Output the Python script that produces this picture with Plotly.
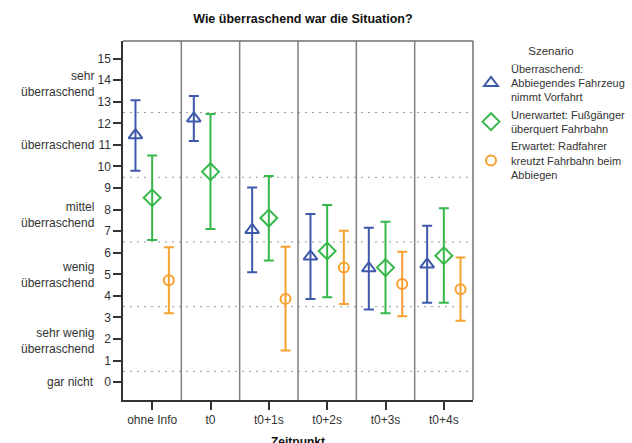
import plotly.graph_objects as go

# Zeitpunkte (x-Kategorien)
zeitpunkte = ["ohne Info", "t0", "t0+1s", "t0+2s", "t0+3s", "t0+4s"]

# Mittelwerte und 95%-Konfidenzgrenzen je Szenario
ueberraschend_mean = [11.45, 12.23, 7.06, 5.83, 5.28, 5.46]
ueberraschend_low = [9.80, 11.18, 5.09, 3.85, 3.37, 3.68]
ueberraschend_high = [13.07, 13.27, 9.03, 7.80, 7.16, 7.25]

unerwartet_mean = [8.55, 9.76, 7.61, 6.08, 5.31, 5.86]
unerwartet_low = [6.59, 7.10, 5.64, 3.94, 3.19, 3.68]
unerwartet_high = [10.51, 12.43, 9.56, 8.21, 7.44, 8.06]

erwartet_mean = [4.72, None, 3.86, 5.32, 4.55, 4.31]
erwartet_low = [3.19, None, 1.46, 3.62, 3.06, 2.84]
erwartet_high = [6.25, None, 6.28, 7.02, 6.04, 5.78]

# Verbale Skalenbeschriftung links neben den Zahlen
skalen_text = ["sehr<br>überraschend", "überraschend", "mittel<br>überraschend",
               "wenig<br>überraschend", "sehr wenig<br>überraschend", "gar nicht"]
skalen_pos = [13.84, 11.0, 7.77, 4.97, 1.9, 0.0]

# Grenzen zwischen den Skalenstufen
stufen_grenzen = [12.5, 9.5, 6.5, 3.5, 0.5]

FONT = "Liberation Sans, Arial, sans-serif"
TXT = "#333333"

series = [
    ("Überraschend:<br>Abbiegendes Fahrzeug<br>nimmt Vorfahrt",
     ueberraschend_mean, ueberraschend_low, ueberraschend_high,
     "#3E58AC", "triangle-up-open", 12, -0.286),
    ("Unerwartet: Fußgänger<br>überquert Fahrbahn",
     unerwartet_mean, unerwartet_low, unerwartet_high,
     "#35B849", "diamond-open", 13, 0.0),
    ("Erwartet: Radfahrer<br>kreutzt Fahrbahn beim<br>Abbiegen",
     erwartet_mean, erwartet_low, erwartet_high,
     "#F7A130", "circle-open", 10, 0.286),
]

fig = go.Figure()

for name, mean, low, high, color, symbol, size, offset in series:
    xs, ys, plus, minus = [], [], [], []
    for i, (m, lo, hi) in enumerate(zip(mean, low, high)):
        if m is None:
            continue
        xs.append(i + offset)
        ys.append(m)
        plus.append(hi - m)
        minus.append(m - lo)
    fig.add_trace(go.Scatter(
        x=xs, y=ys, mode="markers", name=name,
        marker=dict(symbol=symbol, size=size, color=color,
                    line=dict(color=color, width=2)),
        error_y=dict(type="data", symmetric=False, array=plus, arrayminus=minus,
                     color=color, thickness=2, width=5),
    ))

shapes = []
# gepunktete Linien zwischen den Skalenstufen
for g in stufen_grenzen:
    shapes.append(dict(type="line", xref="paper", yref="y", x0=0, x1=1, y0=g, y1=g,
                       line=dict(color="#9a9a9a", width=1, dash="2px,5px"), layer="below"))
# senkrechte Trennlinien zwischen den Zeitpunkten
for k in range(len(zeitpunkte) - 1):
    shapes.append(dict(type="line", xref="x", yref="paper", x0=k + 0.5, x1=k + 0.5, y0=0, y1=1,
                       line=dict(color="#808080", width=1.5), layer="below"))
# Rahmen oben und rechts
shapes.append(dict(type="line", xref="paper", yref="paper", x0=0, x1=1, y0=1, y1=1,
                   line=dict(color="#707070", width=1.5)))
shapes.append(dict(type="line", xref="paper", yref="paper", x0=1, x1=1, y0=0, y1=1,
                   line=dict(color="#707070", width=1.5)))

annotations = []
for t, p in zip(skalen_text, skalen_pos):
    annotations.append(dict(text=t, x=-0.078, xref="paper", y=p, yref="y",
                            xanchor="right", yanchor="middle", align="right",
                            showarrow=False, font=dict(family=FONT, size=12, color=TXT)))
annotations.append(dict(text="<b>Zeitpunkt</b>", x=0.5, xref="paper", y=-0.093, yref="paper",
                        xanchor="center", yanchor="top", showarrow=False,
                        font=dict(family=FONT, size=12, color="#111111")))

fig.update_layout(
    width=632, height=443,
    margin=dict(l=123, r=159, t=41, b=43, autoexpand=False),
    paper_bgcolor="white", plot_bgcolor="white",
    font=dict(family=FONT, size=12, color=TXT),
    title=dict(text="<b>Wie überraschend war die Situation?</b>", x=0.514, xref="paper",
               xanchor="center", y=1 - 19 / 443, yanchor="middle", yref="container",
               font=dict(family=FONT, size=12.5, color="#111111")),
    xaxis=dict(range=[-0.5, 5.5], tickvals=list(range(len(zeitpunkte))), ticktext=zeitpunkte,
               showgrid=False, zeroline=False, showline=True, linecolor="#333333", linewidth=1.5,
               ticks="outside", ticklen=8, tickcolor="#333333", tickwidth=1.5,
               tickfont=dict(family=FONT, size=12, color=TXT)),
    yaxis=dict(range=[-0.83, 15.82], tickvals=list(range(16)),
               showgrid=False, zeroline=False, showline=True, linecolor="#333333", linewidth=1.5,
               ticks="outside", ticklen=8, tickcolor="#333333", tickwidth=1.5,
               tickfont=dict(family=FONT, size=12, color=TXT)),
    legend=dict(x=(471 - 123) / 350, xref="paper", y=1 + 1 / 359, yanchor="top", xanchor="left",
                bgcolor="rgba(0,0,0,0)", font=dict(family=FONT, size=11, color=TXT),
                title=dict(text="Szenario", side="top center",
                           font=dict(family=FONT, size=11.5, color=TXT)),
                itemwidth=30, tracegroupgap=0),
    shapes=shapes,
    annotations=annotations,
    showlegend=True,
)

fig.write_html("out.html")
